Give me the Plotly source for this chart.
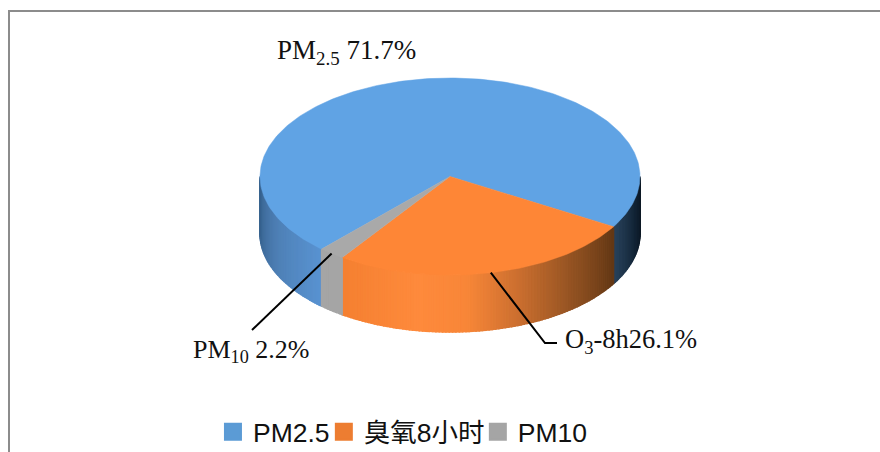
import math
import plotly.graph_objects as go

# ---- data ----
categories = ["PM2.5", "臭氧8小时", "PM10"]
shares = [71.7, 26.1, 2.2]
label_html = ["PM<sub>2.5</sub> 71.7%", "O<sub>3</sub>-8h26.1%", "PM<sub>10</sub> 2.2%"]

# ---- geometry and style ----
W, H = 880, 452
CX, CY, RX, RY, DEPTH = 450, 176.5, 190, 98.5, 57
START_DEG = 132.5  # rim angle, clockwise on screen from east
TOP_COLORS = ["#60a3e4", "#fe8636", "#a9a9a9"]
LEGEND_COLORS = ["#5b9bd5", "#ed7d31", "#a5a5a5"]
SERIF = "Liberation Serif, Times New Roman, serif"
SANS = "Liberation Sans, Noto Sans CJK SC, sans-serif"


def rim(t_deg, drop=0.0):
    t = math.radians(t_deg)
    return CX + RX * math.cos(t), CY + RY * math.sin(t) + drop


def lerp_stops(stops, t):
    stops = sorted(stops)
    t = max(stops[0][0], min(stops[-1][0], t))
    for (a, ca), (b, cb) in zip(stops, stops[1:]):
        if a <= t <= b:
            f = (t - a) / (b - a) if b > a else 0
            c = [round(ca[i] + (cb[i] - ca[i]) * f) for i in range(3)]
            return f"rgb({c[0]},{c[1]},{c[2]})"
    c = stops[-1][1]
    return f"rgb({c[0]},{c[1]},{c[2]})"


SIDE_STOPS = [
    [(0, (10, 20, 30)), (15, (18, 36, 54)), (32, (42, 68, 94)),
     (134, (88, 146, 208)), (155, (78, 128, 182)), (180, (54, 96, 140))],
    [(30, (96, 54, 20)), (50, (146, 82, 34)), (70, (205, 112, 48)),
     (85, (248, 134, 56)), (100, (254, 138, 60)), (126, (244, 127, 48))],
    [(0, (165, 165, 165)), (360, (165, 165, 165))],
]

# sector spans from the values
spans = []
a = START_DEG
total = sum(shares)
for v in shares:
    b = a + v / total * 360
    spans.append((a, b))
    a = b

fig = go.Figure()

# side wall (visible half of the rim only)
for idx, (a, b) in enumerate(spans):
    ranges = []
    for shift in (0, -360):
        lo, hi = max(a + shift, 0), min(b + shift, 180)
        if hi > lo:
            ranges.append((lo, hi))
    for lo, hi in ranges:
        n = max(1, int(hi - lo))
        for k in range(n):
            t0 = lo + (hi - lo) * k / n
            t1 = lo + (hi - lo) * (k + 1) / n
            p = [rim(t0), rim(t1), rim(t1, DEPTH), rim(t0, DEPTH), rim(t0)]
            col = lerp_stops(SIDE_STOPS[idx], (t0 + t1) / 2)
            fig.add_trace(go.Scatter(
                x=[q[0] for q in p], y=[q[1] for q in p], mode="lines",
                fill="toself", fillcolor=col, line=dict(color=col, width=1.5),
                hoverinfo="skip", showlegend=False))

# top face
for idx, (a, b) in enumerate(spans):
    n = max(4, int(b - a))
    pts = [rim(a + (b - a) * k / n) for k in range(n + 1)]
    xs = [CX] + [q[0] for q in pts] + [CX]
    ys = [CY] + [q[1] for q in pts] + [CY]
    fig.add_trace(go.Scatter(
        x=xs, y=ys, mode="lines", fill="toself", fillcolor=TOP_COLORS[idx],
        line=dict(color=TOP_COLORS[idx], width=0.5),
        name=categories[idx], text=f"{categories[idx]} {shares[idx]}%",
        hoverinfo="text", showlegend=False))

# legend: one real legend per entry so the tight spacing can be matched
legend_x = [0.242, 0.368, 0.543]
for idx, name in enumerate(categories):
    key = "legend" if idx == 0 else f"legend{idx + 1}"
    fig.add_trace(go.Scatter(
        x=[None], y=[None], mode="markers", name=name, legend=key,
        marker=dict(symbol="square", size=16, color=LEGEND_COLORS[idx],
                    line=dict(color=LEGEND_COLORS[idx], width=2))))

legend_cfg = {}
for idx in range(3):
    key = "legend" if idx == 0 else f"legend{idx + 1}"
    legend_cfg[key] = dict(
        x=legend_x[idx], y=1 - 432 / H, xanchor="left", yanchor="middle",
        bgcolor="rgba(0,0,0,0)", borderwidth=0, itemwidth=30,
        font=dict(family=SANS, size=26.5, color="#111111"))

# leader lines start at each sector's rim midpoint
mid_pm10 = rim(sum(spans[2]) / 2)
mid_o3 = rim(sum(spans[1]) / 2)
LEADER_INK = dict(color="#000000", width=2)
shapes = [
    dict(type="line", x0=mid_pm10[0], y0=mid_pm10[1], x1=252, y1=330, line=LEADER_INK),
    dict(type="path", path=f"M {mid_o3[0]} {mid_o3[1]} L 545 343 L 557 343", line=LEADER_INK),
    dict(type="path", path=f"M 9 {H} L 9 11 L {W} 11",
         line=dict(color="#8c8c8c", width=2)),
]

ann = [
    dict(x=275, y=52, text=label_html[0], font=dict(family=SERIF, size=27, color="#111111")),
    dict(x=563, y=341, text=label_html[1], font=dict(family=SERIF, size=26.5, color="#111111")),
    dict(x=191, y=351, text=label_html[2], font=dict(family=SERIF, size=26, color="#111111")),
]
for an in ann:
    an.update(xanchor="left", yanchor="middle", showarrow=False)

fig.update_layout(
    width=W, height=H, margin=dict(l=0, r=0, t=0, b=0, autoexpand=False),
    paper_bgcolor="white", plot_bgcolor="white",
    xaxis=dict(range=[0, W], visible=False, fixedrange=True),
    yaxis=dict(range=[H, 0], visible=False, fixedrange=True),
    shapes=shapes, annotations=ann, **legend_cfg)

fig.write_html("out.html", config={"displayModeBar": False},
               post_script="document.body.style.margin='0';")
